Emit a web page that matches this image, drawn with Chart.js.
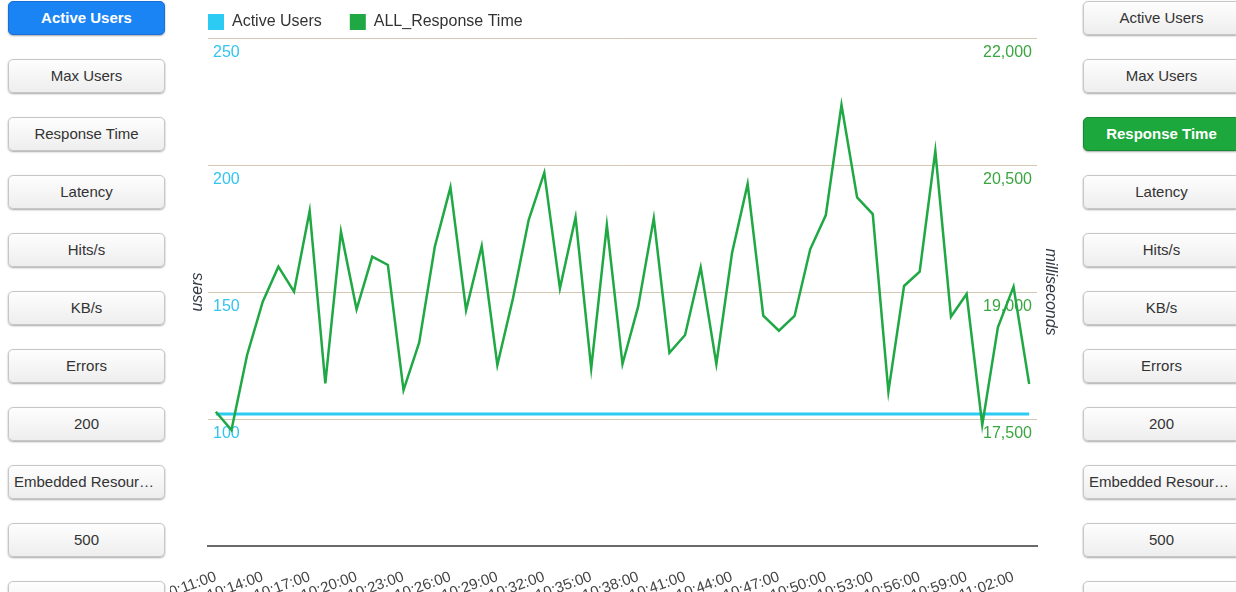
<!DOCTYPE html>
<html>
<head>
<meta charset="utf-8">
<script src="https://cdn.jsdelivr.net/npm/chart.js@4"></script>
<style>
html, body { margin: 0; padding: 0; width: 1236px; height: 592px; overflow: hidden; background: #fff; font-family: "Liberation Sans", Arial, sans-serif; }
.btns { position: absolute; top: 1px; width: 157px; }
#leftBtns { left: 8px; }
#rightBtns { left: 1083px; }
.btn { display: block; box-sizing: border-box; width: 157px; height: 34px; margin-bottom: 24px; border: 1px solid #c6c6c6; border-radius: 5px;
       background: linear-gradient(#fefefe, #eeeeee); box-shadow: 0 1px 2px rgba(0,0,0,0.35); color: #333; font-size: 15px; line-height: 32px;
       text-align: center; white-space: nowrap; overflow: hidden; text-overflow: ellipsis; padding: 0 5px; }
.btn.blue { background: #1a84f5; border-color: #1670d8; color: #fff; font-weight: bold; }
.btn.green { background: #1ca83c; border-color: #168a30; color: #fff; font-weight: bold; }
#chartBox { position: absolute; left: 170px; top: 0; width: 900px; height: 640px; }
</style>
</head>
<body>
<div class="btns" id="leftBtns"></div>
<div class="btns" id="rightBtns"></div>
<div id="chartBox"><canvas id="chart"></canvas></div>
<script>
// chart data
const timeLabels = [
  '10:11:00','10:12:00','10:13:00','10:14:00','10:15:00','10:16:00','10:17:00','10:18:00','10:19:00','10:20:00',
  '10:21:00','10:22:00','10:23:00','10:24:00','10:25:00','10:26:00','10:27:00','10:28:00','10:29:00','10:30:00',
  '10:31:00','10:32:00','10:33:00','10:34:00','10:35:00','10:36:00','10:37:00','10:38:00','10:39:00','10:40:00',
  '10:41:00','10:42:00','10:43:00','10:44:00','10:45:00','10:46:00','10:47:00','10:48:00','10:49:00','10:50:00',
  '10:51:00','10:52:00','10:53:00','10:54:00','10:55:00','10:56:00','10:57:00','10:58:00','10:59:00','11:00:00',
  '11:01:00','11:02:00','11:03:00'
];
const activeUsers = [
  102,102,102,102,102,102,102,102,102,102,
  102,102,102,102,102,102,102,102,102,102,
  102,102,102,102,102,102,102,102,102,102,
  102,102,102,102,102,102,102,102,102,102,
  102,102,102,102,102,102,102,102,102,102,
  102,102,102
];
const responseTime = [
  17586,17370,18256,18886,19299,19004,19957,17921,19713,18795,
  19417,19319,17842,18402,19535,20236,18787,19543,18138,18925,
  19850,20409,19043,19882,18098,19791,18150,18827,19870,18283,
  18492,19291,18150,19457,20276,18720,18543,18717,19504,19909,
  21209,20118,19921,17823,19071,19240,20665,18709,18976,17429,
  18583,19063,17913
];
const leftButtons = ['Active Users','Max Users','Response Time','Latency','Hits/s','KB/s','Errors','200','Embedded Resources','500',''];
const rightButtons = ['Active Users','Max Users','Response Time','Latency','Hits/s','KB/s','Errors','200','Embedded Resources','500',''];

// buttons
function makeButtons(id, names, activeIdx, cls){
    let box = document.getElementById(id);
    for (let i = 0; i < names.length; i++) {
        let b = document.createElement('div');
        b.className = 'btn' + (i == activeIdx ? ' ' + cls : '');
        b.textContent = names[i];
        box.appendChild(b);
    }
}
makeButtons('leftBtns', leftButtons, 0, 'blue');
makeButtons('rightBtns', rightButtons, 2, 'green');

//  chartjs code
Chart.defaults.font.family = '"Liberation Sans", Arial, sans-serif';

const cyan = '#2ccbf4';
const green = '#1fa843';

// put the legend over the left edge of the plot
const legendShift = {
    id: 'legendShift',
    afterLayout(chart) {
        let lg = chart.legend;
        let pad = lg.options.labels.padding;
        let dx = chart.chartArea.left - pad - lg.left;
        lg.left += dx; lg.right += dx;
        lg.top = 14 - pad;
        lg.bottom = lg.top + 70;
        lg.height = 70;
    }
};

var ctx = document.getElementById('chart').getContext('2d');
var myLineChart = new Chart(ctx, {
    type: 'line',
    data: {
        labels: timeLabels,
        datasets: [{
            label: 'Active Users',
            data: activeUsers,
            yAxisID: 'yUsers',
            borderColor: cyan,
            backgroundColor: cyan,
            borderWidth: 3,
            pointRadius: 0,
            fill: false,
            order: 1
        }, {
            label: 'ALL_Response Time',
            data: responseTime,
            yAxisID: 'yMs',
            borderColor: green,
            backgroundColor: green,
            borderWidth: 2.5,
            pointRadius: 0,
            fill: false,
            order: 0
        }]
    },
    options: {
        responsive: true,
        maintainAspectRatio: false,
        animation: false,
        layout: { padding: { left: 12, right: 7, top: 2, bottom: 0 } },
        plugins: {
            tooltip: { enabled: false },
            legend: {
                align: 'start',
                maxHeight: 36,
                labels: {
                    boxWidth: 16,
                    boxHeight: 16,
                    padding: 28,
                    color: '#333',
                    font: { size: 16 },
                    sort: (a, b) => a.datasetIndex - b.datasetIndex,
                    generateLabels: chart => Chart.defaults.plugins.legend.labels.generateLabels(chart).map(l => Object.assign(l, { lineWidth: 0 }))
                }
            }
        },
        scales: {
            x: {
                offset: true,
                grid: { display: false },
                border: { display: true, color: '#6a6a6a', width: 2 },
                ticks: {
                    autoSkip: false,
                    minRotation: 20,
                    maxRotation: 20,
                    padding: 14,
                    color: '#444',
                    font: { size: 15 },
                    callback: (v, i) => i % 3 === 0 ? timeLabels[i] : ''
                },
                afterFit: s => { s.height = 94; s.paddingLeft = 0; s.paddingRight = 0; }
            },
            yUsers: {
                position: 'left',
                min: 50,
                max: 250,
                grid: { color: '#d6c8b4', lineWidth: 1, drawTicks: false },
                border: { display: false },
                ticks: {
                    stepSize: 50,
                    mirror: true,
                    padding: 5,
                    labelOffset: 15,
                    color: '#33c4f0',
                    font: { size: 16 },
                    callback: v => v === 50 ? '' : v
                },
                title: { display: true, text: 'users', color: '#333a44', font: { size: 16, style: 'italic' }, padding: { top: 6, bottom: 0 } },
                afterFit: s => { s.width = 26; s.paddingTop = 0; s.paddingBottom = 0; }
            },
            yMs: {
                position: 'right',
                min: 16000,
                max: 22000,
                grid: { display: false, drawTicks: false },
                border: { display: false },
                ticks: {
                    stepSize: 1500,
                    mirror: true,
                    padding: -5,
                    labelOffset: 15,
                    color: '#3aa63f',
                    font: { size: 16 },
                    callback: v => v === 16000 ? '' : v.toLocaleString('en-US')
                },
                title: { display: true, text: 'milliseconds', color: '#333a44', font: { size: 16, style: 'italic' }, padding: { top: 3, bottom: 0 } },
                afterFit: s => { s.width = 26; s.paddingTop = 0; s.paddingBottom = 0; }
            }
        }
    },
    plugins: [legendShift]
});
</script>
</body>
</html>
